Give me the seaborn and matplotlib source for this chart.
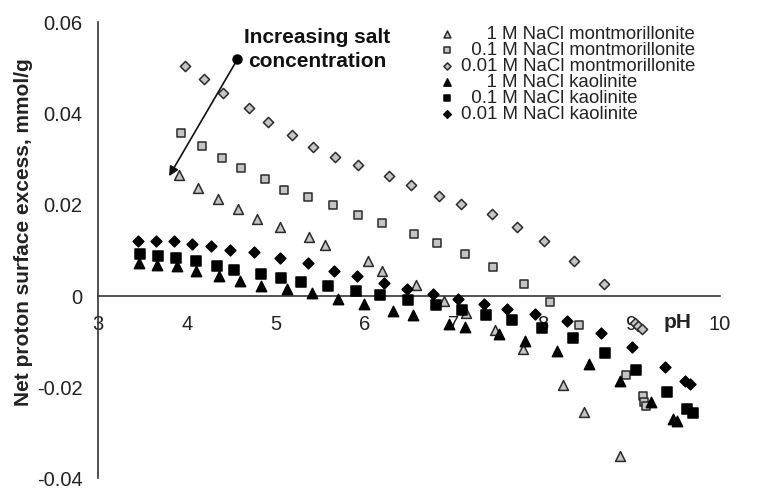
import matplotlib
matplotlib.use("Agg")
import matplotlib.pyplot as plt
import seaborn as sns
import pandas as pd
from matplotlib.ticker import MultipleLocator, FuncFormatter

# ---------------- data ----------------
ph_m1 = [3.91, 4.12, 4.35, 4.57, 4.79, 5.05, 5.37, 5.56, 6.04, 6.20, 6.58, 6.89, 7.14, 7.47, 7.78, 8.23, 8.47, 8.87]
ex_m1 = [0.0265, 0.0238, 0.0212, 0.0192, 0.0170, 0.0152, 0.0130, 0.0111, 0.0077, 0.0056, 0.0025, -0.0011,
         -0.0038, -0.0074, -0.0117, -0.0195, -0.0254, -0.0351]

ph_m01 = [3.93, 4.17, 4.39, 4.61, 4.88, 5.09, 5.36, 5.65, 5.93, 6.20, 6.56, 6.81, 7.13, 7.44, 7.79, 8.09, 8.41,
          8.94, 9.13, 9.15, 9.17]
ex_m01 = [0.0357, 0.0330, 0.0302, 0.0280, 0.0256, 0.0233, 0.0218, 0.0200, 0.0178, 0.0160, 0.0137, 0.0116, 0.0092,
          0.0063, 0.0027, -0.0013, -0.0063, -0.0174, -0.0220, -0.0232, -0.0241]

ph_m001 = [3.98, 4.19, 4.41, 4.70, 4.91, 5.18, 5.42, 5.67, 5.93, 6.28, 6.52, 6.84, 7.09, 7.43, 7.72, 8.02, 8.36,
           8.69, 9.04, 9.08, 9.12]
ex_m001 = [0.0504, 0.0477, 0.0445, 0.0412, 0.0381, 0.0353, 0.0328, 0.0306, 0.0288, 0.0263, 0.0244, 0.0219, 0.0201,
           0.0179, 0.0152, 0.0121, 0.0077, 0.0026, -0.0059, -0.0065, -0.0072]

ph_k1 = [3.46, 3.66, 3.89, 4.10, 4.36, 4.60, 4.84, 5.13, 5.41, 5.70, 5.99, 6.32, 6.54, 6.95, 7.13, 7.51, 7.81,
         8.16, 8.52, 8.87, 9.22, 9.47, 9.52]
ex_k1 = [0.0072, 0.0069, 0.0065, 0.0055, 0.0045, 0.0034, 0.0023, 0.0015, 0.0007, -0.0007, -0.0017, -0.0032,
         -0.0041, -0.0061, -0.0068, -0.0084, -0.0099, -0.0121, -0.0150, -0.0187, -0.0233, -0.0269, -0.0273]

ph_k01 = [3.47, 3.68, 3.88, 4.10, 4.34, 4.53, 4.83, 5.06, 5.28, 5.59, 5.90, 6.17, 6.49, 6.80, 7.10, 7.37, 7.66,
          8.00, 8.35, 8.71, 9.05, 9.40, 9.63, 9.70]
ex_k01 = [0.0092, 0.0089, 0.0083, 0.0076, 0.0067, 0.0057, 0.0049, 0.0039, 0.0031, 0.0023, 0.0011, 0.0003,
          -0.0008, -0.0020, -0.0031, -0.0042, -0.0053, -0.0070, -0.0091, -0.0125, -0.0162, -0.0211, -0.0248, -0.0257]

ph_k001 = [3.45, 3.65, 3.86, 4.06, 4.27, 4.49, 4.76, 5.05, 5.36, 5.66, 5.91, 6.22, 6.48, 6.77, 7.05, 7.34, 7.60,
           7.92, 8.28, 8.66, 9.01, 9.38, 9.61, 9.66]
ex_k001 = [0.0121, 0.0121, 0.0121, 0.0115, 0.0109, 0.0102, 0.0096, 0.0083, 0.0073, 0.0056, 0.0045, 0.0028,
           0.0016, 0.0005, -0.0006, -0.0018, -0.0028, -0.0039, -0.0055, -0.0080, -0.0111, -0.0155, -0.0186, -0.0192]

labels = ["     1 M NaCl montmorillonite",
          "  0.1 M NaCl montmorillonite",
          "0.01 M NaCl montmorillonite",
          "     1 M NaCl kaolinite",
          "  0.1 M NaCl kaolinite",
          "0.01 M NaCl kaolinite"]

x_ticks = [3, 4, 5, 6, 7, 8, 9, 10]
y_ticks = [-0.04, -0.02, 0, 0.02, 0.04, 0.06]

annot_text = "Increasing salt\nconcentration"
annot_start = (4.568, 0.0519)
annot_end = (3.80, 0.0263)

# ---------------- style ----------------
sns.set_theme(style="white")
plt.rcParams["font.family"] = ["Liberation Sans", "DejaVu Sans"]
plt.rcParams["axes.unicode_minus"] = False

series = [
    (ph_m1, ex_m1, "^", "#c4c4c4", "#2a2a2a", 50),
    (ph_m01, ex_m01, "s", "#c4c4c4", "#2a2a2a", 40),
    (ph_m001, ex_m001, "D", "#c4c4c4", "#2a2a2a", 27),
    (ph_k1, ex_k1, "^", "black", "black", 55),
    (ph_k01, ex_k01, "s", "black", "black", 45),
    (ph_k001, ex_k001, "D", "black", "black", 30),
]

fig = plt.figure(figsize=(7.65, 4.88), dpi=100)
ax = fig.add_axes([0.1281, 0.0195, 0.8131, 0.9344])

for (xs, ys, mk, fc, ec, s), lab in zip(series, labels):
    df = pd.DataFrame({"pH": xs, "excess": ys})
    sns.scatterplot(data=df, x="pH", y="excess", marker=mk, color=fc, edgecolor=ec,
                    linewidth=1.1, s=s, label=lab, ax=ax, zorder=3)

ax.set_xlim(3, 10)
ax.set_ylim(-0.04, 0.06)

for side in ["top", "right"]:
    ax.spines[side].set_visible(False)
ax.spines["bottom"].set_position(("data", 0))
for side in ["left", "bottom"]:
    ax.spines[side].set_color("#333333")
    ax.spines[side].set_linewidth(1.2)

ax.set_xticks(x_ticks)
ax.set_yticks(y_ticks)
ax.xaxis.set_minor_locator(MultipleLocator(0.5))
ax.yaxis.set_minor_locator(MultipleLocator(0.01))
ax.yaxis.set_major_formatter(FuncFormatter(lambda v, p: f"{v:g}"))
ax.tick_params(axis="both", which="major", direction="inout", length=10, width=1.1,
               color="#333333", labelsize=14.5, labelcolor="#222222")
ax.tick_params(axis="both", which="minor", direction="in", length=5, width=1.1, color="#333333")
ax.tick_params(axis="x", which="major", pad=8.5)
ax.tick_params(axis="y", which="major", pad=6)

ax.set_xlabel("pH", fontsize=15, fontweight="bold", color="#222222")
ax.xaxis.set_label_coords(0.931, 0.362)
ax.set_ylabel("Net proton surface excess, mmol/g", fontsize=15, fontweight="bold", color="#222222")
ax.yaxis.set_label_coords(-0.104, 0.54)

# annotation arrow with dot at its tail
ax.annotate("", xy=annot_end, xytext=annot_start,
            arrowprops=dict(arrowstyle="-|>", color="#111111", lw=1.2, mutation_scale=14,
                            shrinkA=0, shrinkB=0), zorder=5)
ax.plot([annot_start[0]], [annot_start[1]], marker="o", color="black", markersize=6.5, zorder=6)
ax.text(5.47, 0.0541, annot_text, ha="center", va="center", fontsize=15, fontweight="bold",
        color="#111111", linespacing=1.3)

leg = ax.legend(loc="upper left", bbox_to_anchor=(0.5745, 0.946), bbox_transform=fig.transFigure,
                frameon=False, fontsize=13.4, handlelength=0.8, handletextpad=0.35,
                labelspacing=-0.06, borderpad=0, borderaxespad=0, markerscale=0.7)
for t in leg.get_texts():
    t.set_color("#222222")

fig.savefig("out.png", dpi=100)
